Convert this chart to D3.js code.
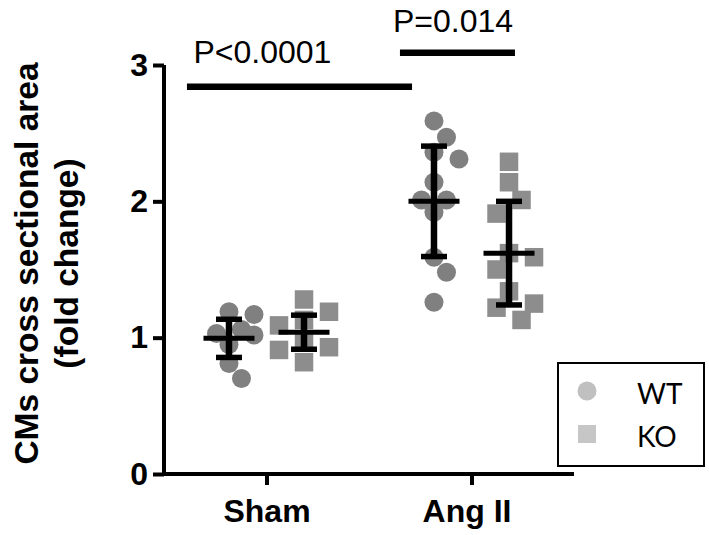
<!DOCTYPE html>
<html>
<head>
<meta charset="utf-8">
<script src="https://cdn.jsdelivr.net/npm/d3@7"></script>
<style>
  html, body { margin: 0; padding: 0; background: #fff; }
  svg { display: block; }
</style>
</head>
<body>
<svg id="chart" width="709" height="535"></svg>
<script>
// ---------------- data ----------------
const categories = ["Sham", "Ang II"];
const seriesNames = ["WT", "KO"];
const yTicks = [0, 1, 2, 3];

// individual points (fold change)
const wtSham = [1.19, 1.17, 1.06, 1.03, 1.02, 0.95, 0.81, 0.70];
const koSham = [1.28, 1.19, 1.13, 1.09, 0.98, 0.93, 0.91, 0.82];
const wtAng  = [2.59, 2.47, 2.36, 2.31, 2.14, 2.01, 2.01, 1.92, 1.59, 1.48, 1.26];
const koAng  = [2.29, 2.14, 2.01, 1.91, 1.62, 1.59, 1.50, 1.34, 1.25, 1.22, 1.13];

// mean and SD per category (Sham, Ang II)
const meanWT = [0.995, 2.00];
const sdWT   = [0.14, 0.405];
const meanKO = [1.04, 1.62];
const sdKO   = [0.125, 0.38];

// significance annotations
const pLabels = ["P<0.0001", "P=0.014"];

// ---------------- layout ----------------
const svg = d3.select("#chart");
const axisX = 164, axisBottom = 474, axisTop = 65, axisRight = 574;

const y = d3.scaleLinear().domain([0, 3]).range([axisBottom, axisTop]);
const x = d3.scalePoint().domain(categories).range([axisX, axisRight]).padding(0.5);
const step = x.step();
const groupOffset = { WT: -0.183 * step, KO: 0.183 * step };

const colors = { WT: "#808080", KO: "#8d8d8d" };
const legendColors = { WT: "#c0c0c0", KO: "#c6c6c6" };
const r = 9.5, sq = 18.5;

const groups = [
  { cat: "Sham", s: "WT", vals: wtSham },
  { cat: "Sham", s: "KO", vals: koSham },
  { cat: "Ang II", s: "WT", vals: wtAng },
  { cat: "Ang II", s: "KO", vals: koAng }
];

// deterministic dodge (scatter-dot arrangement)
function dodge(vals, cx) {
  const slot = 12.5, minD = 18.5;
  const order = vals.map((v, i) => i).sort((a, b) => vals[b] - vals[a]);
  const placed = [];
  const out = new Array(vals.length);
  const cands = [0, 1, -1, 2, -2];
  order.forEach(i => {
    const py = y(vals[i]);
    let best = null, bestD = -1;
    for (const c of cands) {
      const px = cx + c * slot;
      const dmin = placed.length ? d3.min(placed, p => Math.hypot(p[0] - px, p[1] - py)) : Infinity;
      if (dmin >= minD) { best = px; break; }
      if (dmin > bestD) { bestD = dmin; best = px; }
    }
    placed.push([best, py]);
    out[i] = [best, py];
  });
  return out;
}

// ---------------- points ----------------
const pts = svg.append("g");
groups.forEach(g => {
  const cx = x(g.cat) + groupOffset[g.s];
  const pos = dodge(g.vals, cx);
  if (g.s === "WT") {
    pts.selectAll(null).data(pos).enter().append("circle")
      .attr("cx", d => d[0]).attr("cy", d => d[1]).attr("r", r)
      .attr("fill", colors.WT);
  } else {
    pts.selectAll(null).data(pos).enter().append("rect")
      .attr("x", d => d[0] - sq / 2).attr("y", d => d[1] - sq / 2)
      .attr("width", sq).attr("height", sq)
      .attr("fill", colors.KO);
  }
});

// ---------------- mean ± SD ----------------
const eb = svg.append("g").attr("stroke", "#000").attr("fill", "none");
categories.forEach((c, i) => {
  [["WT", meanWT[i], sdWT[i]], ["KO", meanKO[i], sdKO[i]]].forEach(([s, m, sd]) => {
    const cx = x(c) + groupOffset[s];
    eb.append("line").attr("x1", cx).attr("x2", cx)
      .attr("y1", y(m + sd)).attr("y2", y(m - sd)).attr("stroke-width", 6.5);
    eb.append("line").attr("x1", cx - 25.5).attr("x2", cx + 25.5)
      .attr("y1", y(m)).attr("y2", y(m)).attr("stroke-width", 5);
    [m + sd, m - sd].forEach(v => {
      eb.append("line").attr("x1", cx - 13).attr("x2", cx + 13)
        .attr("y1", y(v)).attr("y2", y(v)).attr("stroke-width", 5.5);
    });
  });
});

// ---------------- axes ----------------
const yAxis = svg.append("g").attr("transform", `translate(${axisX},0)`)
  .call(d3.axisLeft(y).tickValues(yTicks).tickFormat(d3.format("d"))
    .tickSize(11).tickSizeOuter(0).tickPadding(5));
const xAxis = svg.append("g").attr("transform", `translate(0,${axisBottom})`)
  .call(d3.axisBottom(x).tickSize(11).tickSizeOuter(0).tickPadding(14));

[yAxis, xAxis].forEach(a => {
  a.select(".domain").attr("stroke", "#000").attr("stroke-width", 4);
  a.selectAll(".tick line").attr("stroke", "#000").attr("stroke-width", 4);
  a.selectAll(".tick text").attr("fill", "#000")
    .style("font-family", "'Liberation Sans', Arial, sans-serif")
    .style("font-weight", "bold").style("font-size", "32px");
});
xAxis.selectAll(".tick text").attr("dx", (d, i) => i === 1 ? -5 : 0);
// extend domains to meet at the corner
yAxis.select(".domain").attr("d", `M0,${axisTop}V${axisBottom + 2}`);
xAxis.select(".domain").attr("d", `M${axisX - 2},0H${axisRight}`);

// y axis title
const yt = svg.append("text")
  .attr("transform", `translate(0,${(axisTop + axisBottom) / 2 - 6}) rotate(-90)`)
  .attr("text-anchor", "middle")
  .style("font-family", "'Liberation Sans', Arial, sans-serif")
  .style("font-weight", "bold").style("font-size", "33.5px").attr("fill", "#000");
yt.append("tspan").attr("x", 0).attr("y", 38).text("CMs cross sectional area");
yt.append("tspan").attr("x", 0).attr("y", 78).text("(fold change)");

// ---------------- significance bars ----------------
const brackets = [
  { x1: -0.388, x2: 0.71, yv: 2.84, tx: -0.02, ty: 3.015, label: pLabels[0] },
  { x1: 0.651, x2: 1.212, yv: 3.09, tx: 0.91, ty: 3.243, label: pLabels[1] }
];
const xl = d3.scaleLinear().domain([0, 1]).range([x(categories[0]), x(categories[1])]);
const sig = svg.append("g");
brackets.forEach(b => {
  sig.append("line").attr("x1", xl(b.x1)).attr("x2", xl(b.x2))
    .attr("y1", y(b.yv)).attr("y2", y(b.yv))
    .attr("stroke", "#000").attr("stroke-width", 6.5);
  sig.append("text").attr("x", xl(b.tx)).attr("y", y(b.ty))
    .attr("text-anchor", "middle")
    .style("font-family", "'Liberation Sans', Arial, sans-serif")
    .style("font-size", "32px").attr("fill", "#000").text(b.label);
});

// ---------------- legend ----------------
const lg = svg.append("g").attr("transform", "translate(557,362)");
lg.append("rect").attr("x", 1).attr("y", 1).attr("width", 146).attr("height", 103)
  .attr("fill", "#fff").attr("stroke", "#000").attr("stroke-width", 2);
lg.append("circle").attr("cx", 30).attr("cy", 29).attr("r", 9.5).attr("fill", legendColors.WT);
lg.append("rect").attr("x", 21).attr("y", 63).attr("width", 18).attr("height", 18).attr("fill", legendColors.KO);
seriesNames.forEach((s, i) => {
  lg.append("text").attr("x", 80).attr("y", 42 + i * 43)
    .style("font-family", "Lato, 'Open Sans', sans-serif")
    .style("font-size", "28px").attr("fill", "#000").text(s);
});
</script>
</body>
</html>
